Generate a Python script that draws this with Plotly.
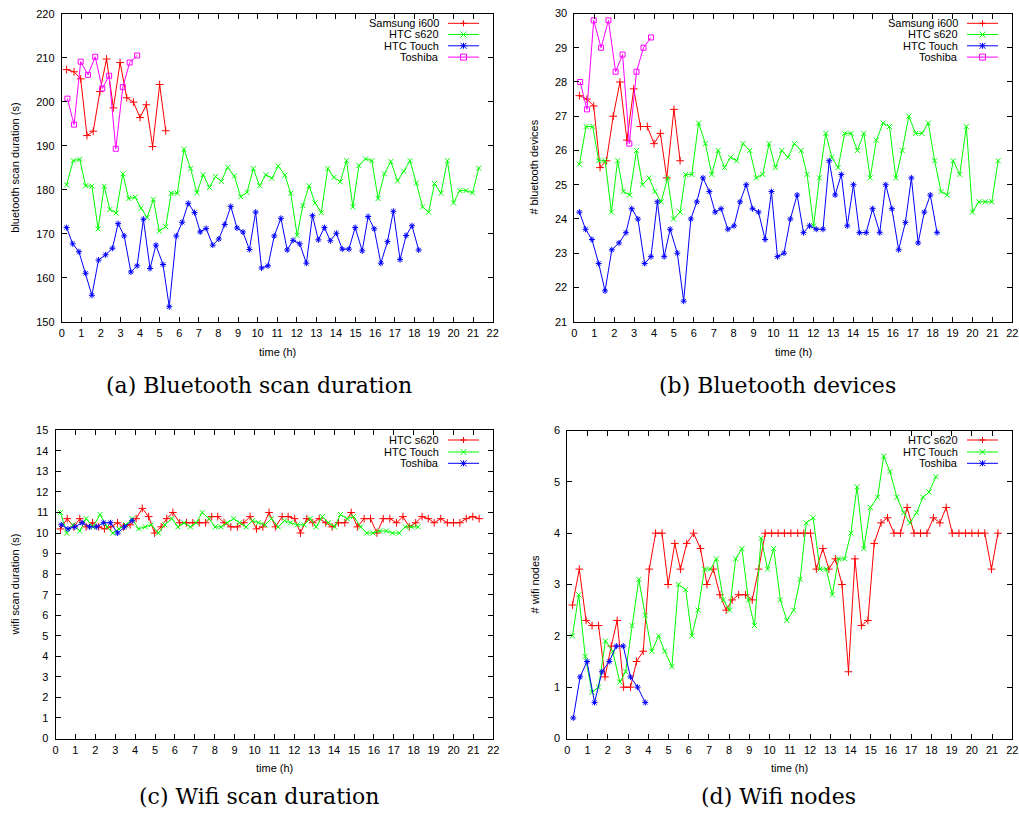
import plotly.graph_objects as go

# ---------------- data ----------------
# time stamps (hours) per device
t_samsung = [0.25, 0.63, 0.97, 1.29, 1.61, 1.95, 2.29, 2.64, 2.98, 3.32, 3.66, 4.00, 4.32, 4.64, 5.00, 5.31]
t_s620 = [0.25, 0.59, 0.92, 1.22, 1.54, 1.86, 2.17, 2.46, 2.78, 3.12,
          3.42, 3.75, 4.05, 4.36, 4.68, 4.98, 5.31, 5.59, 5.90, 6.24,
          6.58, 6.90, 7.22, 7.54, 7.85, 8.15, 8.47, 8.81, 9.14, 9.46,
          9.78, 10.10, 10.42, 10.73, 11.05, 11.39, 11.69, 12.02, 12.31, 12.63,
          12.93, 13.25, 13.58, 13.90, 14.22, 14.54, 14.86, 15.17, 15.51, 15.83,
          16.15, 16.47, 16.80, 17.14, 17.46, 17.78, 18.10, 18.42, 18.73, 19.03,
          19.36, 19.69, 20.00, 20.32, 20.64, 20.97, 21.29]
t_touch = [0.25, 0.56, 0.88, 1.22, 1.54, 1.88, 2.24, 2.59, 2.88, 3.19,
           3.53, 3.85, 4.17, 4.51, 4.81, 5.17, 5.49, 5.85, 6.15, 6.46,
           6.78, 7.07, 7.37, 7.71, 8.02, 8.32, 8.63, 8.95, 9.25, 9.58,
           9.90, 10.20, 10.53, 10.85, 11.19, 11.51, 11.81, 12.15, 12.49, 12.80,
           13.10, 13.41, 13.71, 14.02, 14.32, 14.66, 14.98, 15.34, 15.64, 15.95,
           16.29, 16.63, 16.93, 17.27, 17.58, 17.88, 18.22]
t_toshiba = [0.29, 0.63, 0.97, 1.34, 1.71, 2.07, 2.42, 2.76, 3.12, 3.47, 3.85]

# (a) bluetooth scan duration (s)
bt_dur_samsung = [207.3, 206.8, 205.2, 192.3, 193.3, 202.3, 209.7, 198.6, 208.9, 200.9,
                  199.9, 196.4, 199.3, 189.8, 203.9, 193.4]
bt_dur_s620 = [181.1, 186.6, 186.9, 180.9, 180.8, 171.1, 180.8, 175.5, 174.7, 183.6,
               178.0, 178.3, 175.8, 173.7, 177.8, 170.6, 171.6, 179.2, 179.2, 189.2,
               184.8, 179.3, 183.4, 180.5, 183.0, 181.9, 185.1, 183.1, 178.4, 179.4,
               184.8, 180.9, 183.4, 182.6, 185.4, 183.3, 179.2, 169.6, 176.4, 180.9,
               177.0, 174.8, 184.8, 182.8, 181.8, 186.6, 176.1, 185.5, 187.0, 186.6,
               178.0, 183.6, 186.4, 182.0, 184.2, 186.6, 181.5, 176.1, 174.9, 181.4,
               179.2, 186.6, 177.0, 179.8, 179.8, 179.3, 184.9]
bt_dur_touch = [171.4, 167.7, 165.9, 161.0, 156.0, 164.0, 165.2, 166.7, 172.3, 169.5,
                161.3, 162.7, 173.3, 162.1, 167.4, 163.0, 153.4, 169.5, 172.6, 176.9,
                174.8, 170.4, 171.2, 167.4, 168.8, 172.1, 176.2, 171.3, 170.4, 166.4,
                174.9, 162.2, 162.7, 169.5, 173.5, 166.3, 168.5, 167.7, 163.3, 174.1,
                168.6, 171.4, 168.4, 170.1, 166.5, 166.5, 171.4, 166.1, 173.9, 171.1,
                163.3, 168.2, 175.1, 164.1, 169.6, 171.8, 166.3]
bt_dur_toshiba = [200.7, 194.8, 209.1, 206.1, 210.2, 203.0, 205.9, 189.3, 203.3, 208.9, 210.5]

# (b) number of bluetooth devices
bt_dev_samsung = [27.6, 27.5, 27.3, 25.5, 25.7, 27.0, 28.0, 26.3, 27.8, 26.7,
                  26.7, 26.2, 26.5, 25.2, 27.2, 25.7]
bt_dev_s620 = [25.6, 26.7, 26.7, 25.7, 25.7, 24.2, 25.7, 24.8, 24.7, 26.0,
               25.0, 25.2, 24.8, 24.5, 25.2, 24.0, 24.2, 25.3, 25.3, 26.8,
               26.2, 25.3, 26.0, 25.5, 25.8, 25.7, 26.2, 26.0, 25.2, 25.3,
               26.2, 25.5, 26.0, 25.8, 26.2, 26.0, 25.3, 23.8, 25.2, 26.5,
               25.8, 25.5, 26.5, 26.5, 26.0, 26.5, 25.2, 26.3, 26.8, 26.7,
               25.2, 26.0, 27.0, 26.5, 26.5, 26.8, 25.7, 24.8, 24.7, 25.7,
               25.3, 26.7, 24.2, 24.5, 24.5, 24.5, 25.7]
bt_dev_touch = [24.2, 23.7, 23.4, 22.7, 21.9, 23.1, 23.3, 23.6, 24.3, 24.0,
                22.7, 22.9, 24.5, 22.9, 23.7, 23.0, 21.6, 24.0, 24.5, 25.2,
                24.8, 24.2, 24.3, 23.7, 23.8, 24.5, 25.0, 24.3, 24.2, 23.4,
                24.8, 22.9, 23.0, 24.0, 24.7, 23.6, 23.8, 23.7, 23.7, 25.7,
                24.7, 25.3, 23.8, 25.0, 23.6, 23.6, 24.3, 23.6, 25.0, 24.3,
                23.1, 23.9, 25.2, 23.3, 24.2, 24.7, 23.6]
bt_dev_toshiba = [28.0, 27.2, 29.8, 29.0, 29.8, 28.3, 28.8, 26.2, 28.3, 29.0, 29.3]

# (c) wifi scan duration (s)
wifi_dur_s620 = [10.2, 10.7, 10.3, 10.7, 10.3, 10.5, 10.3, 10.2, 10.3, 10.5,
                 10.3, 10.4, 10.7, 11.2, 10.8, 10.0, 10.3, 10.7, 11.0, 10.5,
                 10.5, 10.5, 10.5, 10.5, 10.8, 10.8, 10.5, 10.3, 10.3, 10.5,
                 10.8, 10.2, 10.3, 11.0, 10.3, 10.8, 10.8, 10.7, 10.0, 10.7,
                 10.5, 10.7, 10.5, 10.3, 10.5, 10.5, 11.0, 10.3, 10.7, 10.7,
                 10.0, 10.7, 10.7, 10.5, 10.8, 10.3, 10.5, 10.8, 10.7, 10.5,
                 10.7, 10.5, 10.5, 10.5, 10.7, 10.8, 10.7]
wifi_dur_touch = [11.0, 10.0, 10.4, 10.1, 10.7, 10.3, 10.9, 10.3, 10.0, 10.2,
                  10.4, 10.7, 10.2, 10.3, 10.4, 10.0, 10.4, 10.7, 10.3, 10.5,
                  10.3, 10.5, 11.0, 10.7, 10.3, 10.3, 10.5, 10.7, 10.5, 10.3,
                  10.6, 10.5, 10.4, 10.7, 10.3, 10.6, 10.5, 10.4, 10.4, 10.7,
                  10.3, 10.8, 10.5, 10.3, 10.9, 10.7, 10.8, 10.3, 10.0, 10.0,
                  10.1, 10.1, 10.0, 10.0, 10.3, 10.3, 10.3]
wifi_dur_toshiba = [10.4, 10.2, 10.3, 10.5, 10.3, 10.3, 10.5, 10.5, 10.0, 10.3, 10.6]

# (d) number of wifi nodes
wifi_nodes_s620 = [2.6, 3.3, 2.3, 2.2, 2.2, 1.2, 1.8, 2.3, 1.0, 1.0,
                   1.5, 1.7, 3.3, 4.0, 4.0, 3.0, 3.8, 3.3, 3.8, 4.0,
                   3.7, 3.0, 3.3, 2.8, 2.5, 2.7, 2.8, 2.8, 2.7, 3.3,
                   4.0, 4.0, 4.0, 4.0, 4.0, 4.0, 4.0, 4.0, 3.3, 3.7,
                   3.3, 3.5, 3.0, 1.3, 3.5, 2.2, 2.3, 3.8, 4.2, 4.3,
                   4.0, 4.0, 4.5, 4.0, 4.0, 4.0, 4.3, 4.2, 4.5, 4.0,
                   4.0, 4.0, 4.0, 4.0, 4.0, 3.3, 4.0]
wifi_nodes_touch = [2.0, 2.8, 1.6, 0.9, 1.0, 1.9, 1.7, 1.1, 1.3, 2.2,
                    3.1, 2.4, 1.7, 2.0, 1.7, 1.4, 3.0, 2.9, 2.0, 2.5,
                    3.3, 3.3, 3.5, 2.7, 2.5, 3.5, 3.7, 2.7, 2.2, 3.9,
                    3.3, 3.7, 2.7, 2.3, 2.5, 3.1, 4.2, 4.3, 3.3, 3.3,
                    2.8, 3.5, 3.5, 4.0, 4.9, 3.7, 4.5, 4.7, 5.5, 5.2,
                    4.7, 4.4, 4.2, 4.4, 4.7, 4.8, 5.1]
wifi_nodes_toshiba = [0.4, 1.2, 1.5, 0.7, 1.3, 1.5, 1.8, 1.8, 1.2, 1.0, 0.7]

# tick values / labels
x_ticks = [0, 1, 2, 3, 4, 5, 6, 7, 8, 9, 10, 11, 12, 13, 14, 15, 16, 17, 18, 19, 20, 21, 22]
bt_dur_ticks = [150, 160, 170, 180, 190, 200, 210, 220]
bt_dev_ticks = [21, 22, 23, 24, 25, 26, 27, 28, 29, 30]
wifi_dur_ticks = [0, 1, 2, 3, 4, 5, 6, 7, 8, 9, 10, 11, 12, 13, 14, 15]
wifi_nodes_ticks = [0, 1, 2, 3, 4, 5, 6]

# ---------------- styling ----------------
W, H = 1019, 818
SANS = "Liberation Sans, Arial, Helvetica, sans-serif"
SERIF = "DejaVu Serif, serif"
RED, GREEN, BLUE, MAGENTA = "#ff0000", "#00ff00", "#0000ff", "#ff00ff"
SYM = {"plus": "cross-thin-open", "x": "x-thin-open", "star": "asterisk-open", "square": "square-open"}
MSIZE = {"plus": 5.5, "x": 5, "star": 5, "square": 5}


def fx(p):
    return p / W


def fy(p):
    return 1 - p / H


fig = go.Figure()


def add_series(xs, ys, name, color, symbol, ax):
    sfx = "" if ax == 1 else str(ax)
    fig.add_trace(go.Scatter(
        x=xs, y=ys, name=name, mode="lines+markers",
        xaxis="x" + sfx, yaxis="y" + sfx, showlegend=False,
        line=dict(color=color, width=1),
        marker=dict(symbol=SYM[symbol], size=MSIZE[symbol],
                    color=color, line=dict(color=color, width=1)),
    ))


# (a)
add_series(t_samsung, bt_dur_samsung, "Samsung i600", RED, "plus", 1)
add_series(t_s620, bt_dur_s620, "HTC s620", GREEN, "x", 1)
add_series(t_touch, bt_dur_touch, "HTC Touch", BLUE, "star", 1)
add_series(t_toshiba, bt_dur_toshiba, "Toshiba", MAGENTA, "square", 1)
# (b)
add_series(t_samsung, bt_dev_samsung, "Samsung i600", RED, "plus", 2)
add_series(t_s620, bt_dev_s620, "HTC s620", GREEN, "x", 2)
add_series(t_touch, bt_dev_touch, "HTC Touch", BLUE, "star", 2)
add_series(t_toshiba, bt_dev_toshiba, "Toshiba", MAGENTA, "square", 2)
# (c)
add_series(t_s620, wifi_dur_s620, "HTC s620", RED, "plus", 3)
add_series(t_touch, wifi_dur_touch, "HTC Touch", GREEN, "x", 3)
add_series(t_toshiba, wifi_dur_toshiba, "Toshiba", BLUE, "star", 3)
# (d)
add_series(t_s620, wifi_nodes_s620, "HTC s620", RED, "plus", 4)
add_series(t_touch, wifi_nodes_touch, "HTC Touch", GREEN, "x", 4)
add_series(t_toshiba, wifi_nodes_toshiba, "Toshiba", BLUE, "star", 4)


def axis(dom, rng, ticks, anchor, standoff):
    return dict(domain=dom, range=rng, tickmode="array", tickvals=ticks,
                ticktext=[str(v) for v in ticks], anchor=anchor,
                showline=True, linecolor="black", linewidth=1, mirror="ticks",
                ticks="inside", ticklen=5, tickwidth=1, tickcolor="black",
                showgrid=False, zeroline=False, automargin=False,
                ticklabelstandoff=standoff,
                tickfont=dict(family=SANS, size=11, color="black"))


# plot areas in pixels (left, right, top, bottom)
A = (61.7, 492.7, 13.7, 321.7)
B = (574.4, 1012.3, 13.5, 321.7)
C = (55.5, 493.3, 430.3, 738.5)
D = (567.4, 1012.3, 430.5, 738.5)


def xdom(r):
    return [fx(r[0]), fx(r[1])]


def ydom(r):
    return [fy(r[3]), fy(r[2])]


fig.update_layout(
    width=W, height=H, autosize=False,
    margin=dict(l=0, r=0, t=0, b=0),
    paper_bgcolor="white", plot_bgcolor="white",
    showlegend=False,
    xaxis=axis(xdom(A), [0, 22], x_ticks, "y", 1),
    yaxis=axis(ydom(A), [150, 220], bt_dur_ticks, "x", 4),
    xaxis2=axis(xdom(B), [0, 22], x_ticks, "y2", 1),
    yaxis2=axis(ydom(B), [21, 30], bt_dev_ticks, "x2", 4),
    xaxis3=axis(xdom(C), [0, 22], x_ticks, "y3", 1),
    yaxis3=axis(ydom(C), [0, 15], wifi_dur_ticks, "x3", 4),
    xaxis4=axis(xdom(D), [0, 22], x_ticks, "y4", 1),
    yaxis4=axis(ydom(D), [0, 6], wifi_nodes_ticks, "x4", 4),
)


def text(s, x, y, size=11, family=SANS, angle=0, xanchor="center"):
    fig.add_annotation(text=s, x=fx(x), y=fy(y), xref="paper", yref="paper",
                       showarrow=False, xanchor=xanchor, yanchor="middle",
                       textangle=angle, font=dict(family=family, size=size, color="black"))


# axis titles
text("time (h)", (A[0] + A[1]) / 2, 352)
text("time (h)", (B[0] + B[1]) / 2, 352)
text("time (h)", (C[0] + C[1]) / 2, 768)
text("time (h)", (D[0] + D[1]) / 2, 768)
text("bluetooth scan duration (s)", 15, (A[2] + A[3]) / 2, angle=-90)
text("# bluetooth devices", 534, (B[2] + B[3]) / 2, angle=-90)
text("wifi scan duration (s)", 15, (C[2] + C[3]) / 2, angle=-90)
text("# wifi nodes", 534, (D[2] + D[3]) / 2, angle=-90)

# sub-figure captions
text("(a) Bluetooth scan duration", 259, 385, size=22, family=SERIF)
text("(b) Bluetooth devices", 777, 385, size=22, family=SERIF)
text("(c) Wifi scan duration", 259, 796, size=22, family=SERIF)
text("(d) Wifi nodes", 778, 796, size=22, family=SERIF)


# gnuplot-style keys (text right-aligned, sample to the right)
def marker_path(kind, cx, cy, r=3.0):
    def P(x, y):
        return f"{fx(x):.6f},{fy(y):.6f}"
    if kind == "plus":
        return f"M {P(cx - r, cy)} L {P(cx + r, cy)} M {P(cx, cy - r)} L {P(cx, cy + r)}"
    if kind == "x":
        return (f"M {P(cx - r, cy - r)} L {P(cx + r, cy + r)} "
                f"M {P(cx - r, cy + r)} L {P(cx + r, cy - r)}")
    if kind == "star":
        return marker_path("plus", cx, cy, r) + " " + marker_path("x", cx, cy, r)
    return (f"M {P(cx - r, cy - r)} L {P(cx + r, cy - r)} L {P(cx + r, cy + r)} "
            f"L {P(cx - r, cy + r)} Z")


def key(x_end, rows, entries):
    for (name, color, kind), yc in zip(entries, rows):
        text(name, x_end, yc, xanchor="right")
        x0, x1 = x_end + 7, x_end + 38
        fig.add_shape(type="line", xref="paper", yref="paper",
                      x0=fx(x0), x1=fx(x1), y0=fy(yc), y1=fy(yc),
                      line=dict(color=color, width=1))
        fig.add_shape(type="path", xref="paper", yref="paper",
                      path=marker_path(kind, (x0 + x1) / 2, yc),
                      line=dict(color=color, width=1))


bt_entries = [("Samsung i600", RED, "plus"), ("HTC s620", GREEN, "x"),
              ("HTC Touch", BLUE, "star"), ("Toshiba", MAGENTA, "square")]
wifi_entries = [("HTC s620", RED, "plus"), ("HTC Touch", GREEN, "x"), ("Toshiba", BLUE, "star")]
key(441, [23.3, 34.5, 45.8, 57.1], bt_entries)
key(960, [23.3, 34.5, 45.8, 57.1], bt_entries)
key(441, [440.0, 452.0, 463.3], wifi_entries)
key(960, [440.0, 452.0, 463.3], wifi_entries)

fig.write_html("out.html")
